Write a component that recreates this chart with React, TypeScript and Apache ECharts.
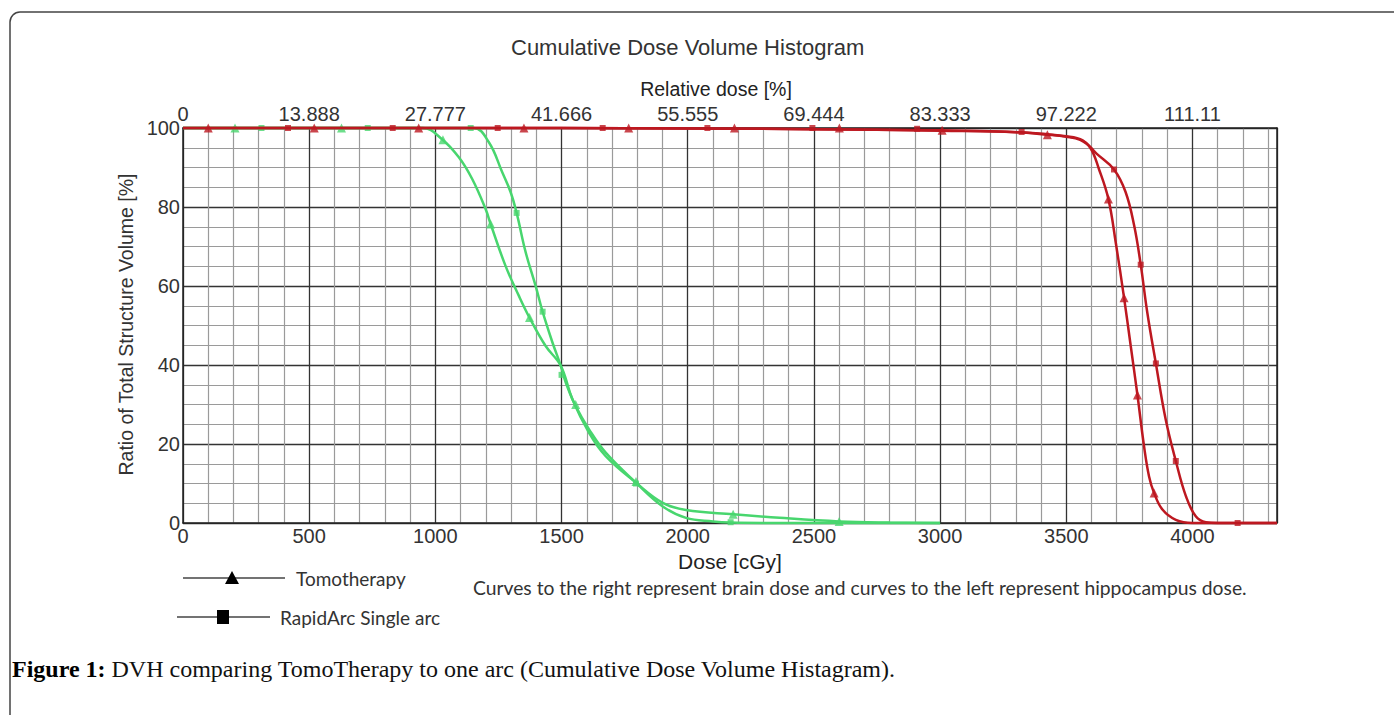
import { useEffect, useRef } from "react";
import * as echarts from "echarts";

// ---------- data ----------
const relDoseLabels = ["0", "13.888", "27.777", "41.666", "55.555", "69.444", "83.333", "97.222", "111.11"];

// hippocampus (green)
const greenTomo: [number, number][] = [
  [0, 100], [950, 100], [1024, 97.3], [1093, 92.6], [1146, 87.1], [1199, 79.5], [1219, 75.7],
  [1278, 65.1], [1331, 57.5], [1373, 52], [1437, 44.8], [1497, 39.8], [1543, 31.3], [1609, 22.8],
  [1675, 16.9], [1795, 10.2], [1901, 5.1], [1993, 3.3], [2180, 2.2], [2364, 1.3], [2600, 0.4],
  [2800, 0.1], [3000, 0],
];
const greenTomoMarks: [number, number][] = [
  [206, 100], [628, 100], [1030, 97], [1219, 75.7], [1373, 52], [1556, 30], [1795, 10.5], [2180, 2.2], [2600, 0.4],
];
const greenArc: [number, number][] = [
  [0, 100], [1150, 100], [1212, 96.4], [1265, 88.8], [1298, 83.8], [1322, 78.5], [1358, 68.5],
  [1397, 60.1], [1424, 53.7], [1464, 45.7], [1497, 39.8], [1517, 35.5], [1556, 29.6], [1609, 23.7],
  [1675, 17.8], [1795, 10.2], [1901, 4.2], [1993, 1.3], [2100, 0.4], [2170, 0.1], [2300, 0], [3000, 0],
];
const greenArcMarks: [number, number][] = [
  [311, 100], [732, 100], [1140, 100], [1322, 78.5], [1425, 53.5], [1500, 37.5], [1795, 10], [2170, 0.2],
];

// brain (red)
const redTomo: [number, number][] = [
  [0, 100], [1000, 100], [2000, 99.9], [2500, 99.7], [3000, 99.4], [3300, 98.9], [3425, 98.3],
  [3500, 97.8], [3555, 97], [3595, 95], [3630, 89.5], [3667, 82], [3696, 71], [3729, 57], [3755, 45],
  [3782, 32.4], [3808, 19.5], [3828, 11.8], [3848, 7.6], [3881, 3.4], [3934, 0.8], [4000, 0], [4335, 0],
];
const redTomoMarks: [number, number][] = [
  [100, 100], [520, 100], [934, 100], [1351, 100], [1766, 100], [2185, 100], [2601, 100], [3008, 99.4],
  [3425, 98.3], [3667, 82], [3729, 57], [3782, 32.4], [3848, 7.6],
];
const redArc: [number, number][] = [
  [0, 100], [1000, 100], [2000, 99.9], [2500, 99.7], [3000, 99.3], [3321, 98.9], [3500, 97.9],
  [3565, 96.9], [3620, 93.5], [3689, 89.5], [3735, 83.8], [3769, 75.3], [3795, 65.4], [3821, 53.3],
  [3855, 40.4], [3894, 26.2], [3934, 15.7], [3974, 6.8], [4013, 1.7], [4053, 0.2], [4100, 0], [4335, 0],
];
const redArcMarks: [number, number][] = [
  [416, 100], [831, 100], [1247, 100], [1663, 100], [2078, 100], [2494, 100], [2909, 99.8], [3323, 99],
  [3689, 89.5], [3795, 65.4], [3855, 40.4], [3934, 15.7], [4179, 0],
];

// ---------- styles ----------
const SANS = "Arial, 'Liberation Sans', sans-serif";
const LEG = "Lato, 'Open Sans', sans-serif";
const SERIF = "'Liberation Serif', 'Times New Roman', serif";
const RED = "#bd1820";
const GREEN = "#48d66e";
const MAJOR = "#333";
const MINOR = "#9a9a9a";

function lineSeries(data: [number, number][], color: string, z: number) {
  return {
    type: "line",
    data,
    showSymbol: false,
    smooth: 0.4,
    clip: false,
    z,
    lineStyle: { color, width: 2.5 },
    emphasis: { disabled: true },
  };
}
function markSeries(data: [number, number][], color: string, symbol: string, size: number, z: number) {
  return {
    type: "scatter",
    data,
    symbol,
    symbolSize: size,
    clip: false,
    z,
    itemStyle: { color },
    emphasis: { disabled: true },
  };
}

export default function App() {
  const ref = useRef<HTMLDivElement>(null);
  useEffect(() => {
    const chart = echarts.init(ref.current!, null, { renderer: "svg" });
    const xCommon = {
      type: "value",
      min: 0,
      max: 4335,
      interval: 500,
      axisTick: { show: false },
      minorTick: { show: false, splitNumber: 5 },
    };
    chart.setOption({
      animation: false,
      backgroundColor: "#fff",
      title: {
        text: "Cumulative Dose Volume Histogram",
        left: 506,
        top: 31,
        textStyle: { fontFamily: SANS, fontSize: 22, fontWeight: "normal", color: "#333" },
      },
      grid: { left: 183, top: 128, right: 117, bottom: 192, containLabel: false },
      xAxis: [
        {
          ...xCommon,
          position: "bottom",
          name: "Dose [cGy]",
          nameLocation: "middle",
          nameGap: 17,
          nameTextStyle: { fontFamily: SANS, fontSize: 21, color: "#222" },
          axisLine: { show: true, onZero: false, lineStyle: { color: "#222", width: 1.5 } },
          axisLabel: {
            fontFamily: SANS,
            fontSize: 20,
            color: "#333",
            margin: 3,
            showMaxLabel: false,
            formatter: (v: number) => (v % 500 === 0 ? String(v) : ""),
          },
          splitLine: { show: true, lineStyle: { color: MAJOR, width: 1.3 } },
          minorSplitLine: { show: true, lineStyle: { color: MINOR, width: 1.2 } },
        },
        {
          ...xCommon,
          position: "top",
          name: "Relative dose [%]",
          nameLocation: "middle",
          nameGap: 27,
          nameTextStyle: { fontFamily: SANS, fontSize: 19.5, color: "#222", padding: [0, 28, 0, 0] },
          axisLine: { show: true, onZero: false, lineStyle: { color: "#222", width: 1.5 } },
          axisLabel: {
            fontFamily: SANS,
            fontSize: 20,
            color: "#333",
            margin: 4,
            showMaxLabel: false,
            formatter: (v: number) => (v % 500 === 0 ? relDoseLabels[v / 500] ?? "" : ""),
          },
          splitLine: { show: false },
        },
      ],
      yAxis: [
        {
          type: "value",
          min: 0,
          max: 100,
          interval: 20,
          name: "Ratio of Total Structure Volume [%]",
          nameLocation: "middle",
          nameRotate: 90,
          nameGap: 27,
          nameTextStyle: { fontFamily: SANS, fontSize: 19.5, color: "#333", padding: [0, 0, 0, 2] },
          axisLine: { show: true, onZero: false, lineStyle: { color: "#222", width: 1.5 } },
          axisTick: { show: false },
          axisLabel: { fontFamily: SANS, fontSize: 20, color: "#333", margin: 3 },
          splitLine: { show: true, lineStyle: { color: MAJOR, width: 1.3 } },
          minorTick: { show: false, splitNumber: 4 },
          minorSplitLine: { show: true, lineStyle: { color: MINOR, width: 1.2 } },
        },
        {
          type: "value",
          min: 0,
          max: 100,
          interval: 20,
          position: "right",
          axisLine: { show: true, onZero: false, lineStyle: { color: "#222", width: 1.5 } },
          axisTick: { show: false },
          axisLabel: { show: false },
          splitLine: { show: false },
        },
      ],
      series: [
        lineSeries(greenTomo, GREEN, 3),
        lineSeries(greenArc, GREEN, 3),
        markSeries(greenTomoMarks, GREEN, "triangle", 9, 4),
        markSeries(greenArcMarks, GREEN, "rect", 6, 4),
        lineSeries(redTomo, RED, 5),
        lineSeries(redArc, RED, 5),
        markSeries(redTomoMarks, RED, "triangle", 9, 6),
        markSeries(redArcMarks, RED, "rect", 6, 6),
      ],
      graphic: [
        {
          type: "rect",
          shape: { x: 10, y: 12, width: 1420, height: 760, r: 10 },
          style: { fill: "none", stroke: "#444", lineWidth: 1.5 },
          silent: true,
        },
        // legend
        { type: "line", shape: { x1: 183, y1: 578, x2: 285, y2: 578 }, style: { stroke: "#444", lineWidth: 1.5 } },
        { type: "polygon", shape: { points: [[225, 584], [239, 584], [232, 571]] }, style: { fill: "#000" } },
        {
          type: "text",
          x: 296,
          y: 578,
          style: { text: "Tomotherapy", fontFamily: LEG, fontSize: 19, fill: "#333", verticalAlign: "middle" },
        },
        { type: "line", shape: { x1: 177, y1: 617, x2: 270, y2: 617 }, style: { stroke: "#444", lineWidth: 1.5 } },
        { type: "rect", shape: { x: 217, y: 610, width: 12, height: 14 }, style: { fill: "#000" } },
        {
          type: "text",
          x: 280,
          y: 617,
          style: { text: "RapidArc Single arc", fontFamily: LEG, fontSize: 19, fill: "#333", verticalAlign: "middle" },
        },
        {
          type: "text",
          x: 473,
          y: 587,
          style: {
            text: "Curves to the right represent brain dose and curves to the left represent hippocampus dose.",
            fontFamily: LEG,
            fontSize: 19.3,
            fill: "#333",
            verticalAlign: "middle",
          },
        },
        // caption
        {
          type: "text",
          x: 12,
          y: 669,
          style: {
            text: "{b|Figure 1:} DVH comparing TomoTherapy to one arc (Cumulative Dose Volume Histagram).",
            fontFamily: SERIF,
            fontSize: 24,
            fill: "#111",
            verticalAlign: "middle",
            rich: { b: { fontFamily: SERIF, fontSize: 24, fontWeight: "bold", fill: "#000" } },
          },
        },
      ],
    });
    return () => chart.dispose();
  }, []);
  return (
    <div
      ref={ref}
      style={{ position: "fixed", left: 0, top: 0, width: 1394, height: 715, background: "#fff" }}
    />
  );
}
